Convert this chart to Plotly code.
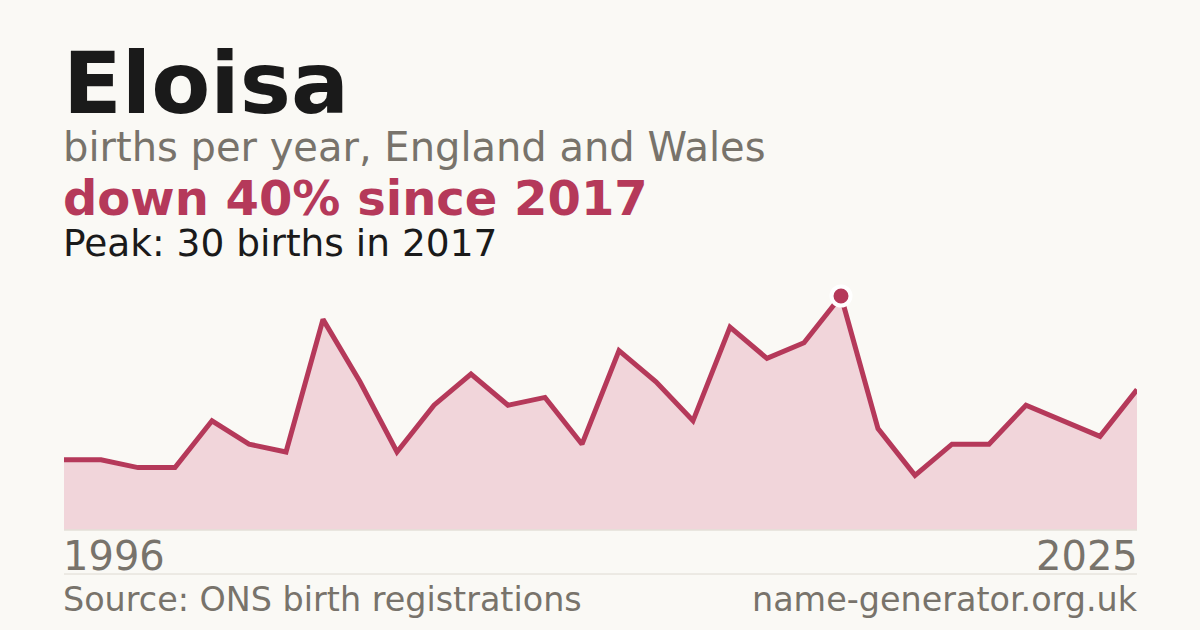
import plotly.graph_objects as go

years = list(range(1996, 2026))
births = [9, 9, 8, 8, 14, 11, 10, 27, 19, 10, 16, 20, 16, 17, 11, 23, 19, 14, 26, 22, 24, 30, 13, 7, 11, 11, 16, 14, 12, 18]

name = "Eloisa"
subtitle = "births per year, England and Wales"
headline = "down 40% since 2017"
peak_text = "Peak: 30 births in 2017"
source = "Source: ONS birth registrations"
site = "name-generator.org.uk"

BG = "#faf9f5"
CRIMSON = "#b5395a"
FILL = "#f1d5da"
GREY = "#78736b"
DARK = "#1a1a1a"
FONT = "DejaVu Sans"

W, H = 1200, 630
L, R, T, B = 64, 63, 280, 100
PLOT_H = H - T - B

def py(p):
    return (H - B - p) / PLOT_H

peak_i = births.index(max(births))

fig = go.Figure()
fig.add_trace(go.Scatter(
    x=years, y=births, mode="lines",
    line=dict(color=CRIMSON, width=5),
    fill="tozeroy", fillcolor=FILL,
    hoverinfo="skip", showlegend=False,
))
fig.add_trace(go.Scatter(
    x=[years[peak_i]], y=[births[peak_i]], mode="markers",
    marker=dict(size=19, color=CRIMSON, line=dict(color="white", width=4)),
    hoverinfo="skip", showlegend=False,
))

ymax = 30 * PLOT_H / 234.0

fig.update_layout(
    width=W, height=H,
    margin=dict(l=L, r=R, t=T, b=B, pad=0),
    paper_bgcolor=BG, plot_bgcolor=BG,
    xaxis=dict(range=[years[0], years[-1]], visible=False, fixedrange=True),
    yaxis=dict(range=[0, ymax], visible=False, fixedrange=True),
    font=dict(family=FONT),
)

fig.add_shape(type="line", xref="paper", yref="paper", x0=0, x1=1, y0=0, y1=0,
              line=dict(color="#e3dfd7", width=1.5), layer="above")
fig.add_shape(type="line", xref="paper", yref="paper", x0=0, x1=1, y0=py(574), y1=py(574),
              line=dict(color="#dedad2", width=1))

def ann(text, x, xanchor, ymid, size, color, bold=False):
    t = f"<b>{text}</b>" if bold else text
    fig.add_annotation(text=t, xref="paper", yref="paper", x=x, y=py(ymid),
                       xanchor=xanchor, yanchor="middle", showarrow=False,
                       xshift=-3 if xanchor == "left" else 3,
                       font=dict(family=FONT, size=size, color=color))

ann(name, 0, "left", 113 - 0.346 * 86, 86, DARK, bold=True)
ann(subtitle, 0, "left", 161 - 0.346 * 40, 40, GREY)
ann(headline, 0, "left", 215 - 0.346 * 48, 48, CRIMSON, bold=True)
ann(peak_text, 0, "left", 256 - 0.346 * 37.5, 37.5, DARK)
ann(str(years[0]), 0, "left", 570 - 0.346 * 40, 40, GREY)
ann(str(years[-1]), 1, "right", 570 - 0.346 * 40, 40, GREY)
ann(source, 0, "left", 611 - 0.346 * 33.4, 33.4, GREY)
ann(site, 1, "right", 611 - 0.346 * 33.4, 33.4, GREY)

fig.write_html("out.html", config={"displayModeBar": False},
               post_script="document.body.style.margin='0';document.body.style.background='" + BG + "';")
